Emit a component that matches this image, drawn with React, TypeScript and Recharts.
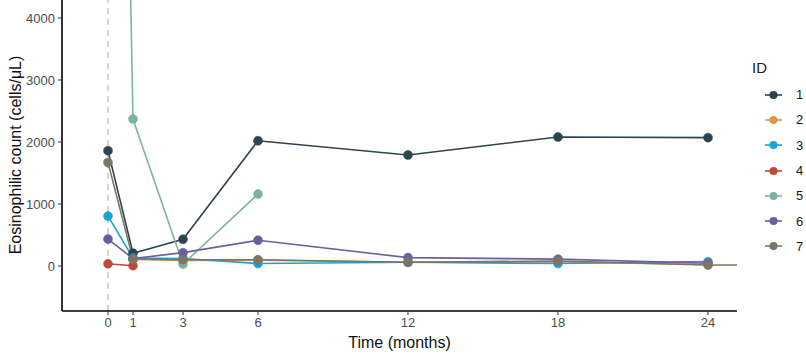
import {
  LineChart,
  Line,
  XAxis,
  YAxis,
  ReferenceLine,
  Legend,
} from 'recharts';

const months = [0, 1, 3, 6, 12, 18, 24];
const yTicks = [0, 1000, 2000, 3000, 4000];

// eosinophil counts per patient (cells/uL); null = not measured
const id1 = [1860, 205, 430, 2020, 1790, 2080, 2070];
const id2 = [null, 110, 90, 95, 60, 70, 20];
const id3 = [805, 130, 120, 40, 60, 40, 70];
const id4 = [35, 5, null, null, null, null, null];
const id5 = [23000, 2370, 30, 1160, null, null, null];
const id6 = [435, 120, 215, 415, 135, 110, 45];
const id7 = [1670, 110, 100, 100, 60, 80, 15];
// last sample of ID 7 lies past the plotted range
const id7LateMonth = 30;
const id7Late = 15;

const ids = ['1', '2', '3', '4', '5', '6', '7'];
const colors = ['#2c4452', '#e0944c', '#1aa5d1', '#be4a3d', '#7fb39c', '#6b5e9c', '#7e7465'];

const toPoints = (vals: (number | null)[]) =>
  months
    .map((t, i) => ({ t, v: vals[i] }))
    .filter((p) => p.v !== null);

const seriesData = [
  toPoints(id1),
  toPoints(id2),
  toPoints(id3),
  toPoints(id4),
  toPoints(id5),
  toPoints(id6),
  [...toPoints(id7), { t: id7LateMonth, v: id7Late }],
];

const font = 'Liberation Sans, Arial, sans-serif';

const IdLegend = () => (
  <div style={{ fontFamily: font, color: '#1a1a1a' }}>
    <div style={{ fontSize: 15, marginLeft: 0, marginBottom: 6 }}>ID</div>
    {ids.map((id, i) => (
      <div
        key={id}
        style={{ display: 'flex', alignItems: 'center', height: 25.3 }}
      >
        <svg width={22} height={12} style={{ marginLeft: 11 }}>
          <line x1={2} y1={6} x2={19} y2={6} stroke={colors[i]} strokeWidth={1.6} />
          <circle cx={10.5} cy={6} r={4} fill={colors[i]} />
        </svg>
        <span style={{ fontSize: 13, marginLeft: 11 }}>{id}</span>
      </div>
    ))}
  </div>
);

const YTitle = () => (
  <text
    x={21}
    y={155}
    transform="rotate(-90 21 155)"
    textAnchor="middle"
    fontSize={16}
    fontFamily={font}
    fill="#111"
  >
    Eosinophilic count (cells/μL)
  </text>
);

const App = () => {
  return (
    <div style={{ position: 'absolute', left: 0, top: 0, background: '#fff' }}>
      <LineChart
        width={806}
        height={356}
        margin={{ top: 0, right: 69, left: 0, bottom: 0 }}
      >
        <XAxis
          type="number"
          dataKey="t"
          domain={[-1.84, 25.16]}
          ticks={months}
          allowDataOverflow
          height={45}
          tick={{ fill: '#4d4d4d', fontSize: 13, fontFamily: font }}
          tickSize={4}
          tickMargin={3}
          axisLine={{ stroke: '#000', strokeWidth: 1.6 }}
          tickLine={{ stroke: '#333' }}
          label={{
            value: 'Time (months)',
            position: 'insideBottom',
            offset: 8,
            fill: '#111',
            fontSize: 16,
            fontFamily: font,
          }}
        />
        <YAxis
          type="number"
          domain={[-726, 4290]}
          ticks={yTicks}
          allowDataOverflow
          width={62}
          tick={{ fill: '#4d4d4d', fontSize: 13, fontFamily: font }}
          tickSize={4}
          tickMargin={3}
          axisLine={{ stroke: '#000', strokeWidth: 1.6 }}
          tickLine={{ stroke: '#333' }}
          label={<YTitle />}
        />
        <ReferenceLine x={0} stroke="#bdbdbd" strokeWidth={1.3} strokeDasharray="6 5" />
        {seriesData.map((d, i) => (
          <Line
            key={ids[i]}
            data={d}
            dataKey="v"
            name={ids[i]}
            type="linear"
            stroke={colors[i]}
            strokeWidth={1.6}
            dot={{ r: 4.5, fill: colors[i], stroke: colors[i], strokeWidth: 0.5 }}
            activeDot={false}
            isAnimationActive={false}
          />
        ))}
        <Legend
          layout="vertical"
          align="center"
          verticalAlign="middle"
          content={<IdLegend />}
          wrapperStyle={{ left: 752, top: 59, width: 54 }}
        />
      </LineChart>
    </div>
  );
};

export default App;
